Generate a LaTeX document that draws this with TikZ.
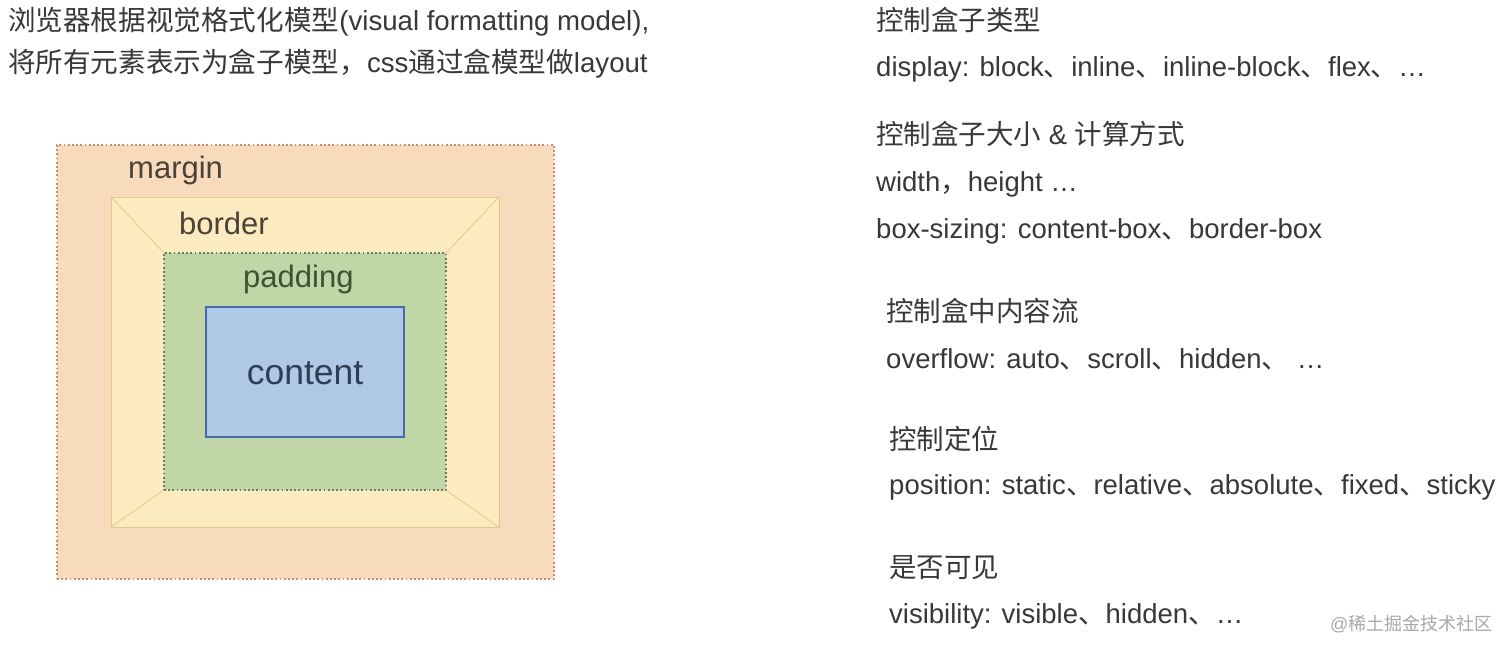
\documentclass[tikz,border=0pt]{standalone}
\usepackage{fontspec}
\setmainfont{Liberation Sans}
\newfontfamily\cjk{Noto Sans CJK SC}
\newcommand\zh[1]{{\cjk #1}}
\definecolor{marginfill}{HTML}{F8DABC}
\definecolor{marginline}{HTML}{C98E72}
\definecolor{borderfill}{HTML}{FCEBC0}
\definecolor{borderline}{HTML}{E2CA86}
\definecolor{padfill}{HTML}{C0D6A6}
\definecolor{padline}{HTML}{62805A}
\definecolor{contfill}{HTML}{AEC8E6}
\definecolor{contline}{HTML}{4A68AE}
\definecolor{txt}{HTML}{383838}
\definecolor{labeltxt}{HTML}{4A4238}
\definecolor{padtxt}{HTML}{3E5236}
\definecolor{conttxt}{HTML}{2E3E55}
\definecolor{mark}{HTML}{A8A8A8}
\begin{document}
\begin{tikzpicture}[x=1pt,y=-1pt,
  boxnode/.style={draw, inner sep=0pt, outer sep=0pt},
  dotline/.style={line width=1.8pt, dash pattern=on 1.8pt off 2.4pt},
  heading/.style={anchor=west, inner sep=0pt, text=txt, font=\fontsize{27.5}{32}\selectfont},
  item/.style={anchor=west, inner sep=0pt, text=txt, font=\fontsize{27.5}{32}\selectfont},
  boxlabel/.style={anchor=west, inner sep=0pt, font=\fontsize{31}{35}\selectfont}]
\useasboundingbox[fill=white] (0,0) rectangle (1512,653);
% intro text
\node[heading, font=\fontsize{27.6}{32}\selectfont] (intro1) at (8,22) {\zh{浏览器根据视觉格式化模型}(visual formatting model),};
\node[heading, font=\fontsize{27.6}{32}\selectfont] (intro2) at (8,64) {\zh{将所有元素表示为盒子模型，}css\zh{通过盒模型做}layout};
% box model
\node[boxnode, fill=marginfill, draw=marginline, dotline,
  minimum width=497pt, minimum height=434pt] (margin) at (305.5,362) {};
\node[boxnode, fill=borderfill, draw=borderline, line width=0.8pt,
  minimum width=388pt, minimum height=330pt] (border) at (305,362) {};
\node[boxnode, fill=padfill, draw=padline, dotline,
  minimum width=282pt, minimum height=237pt] (padding) at (305,371.5) {};
\node[boxnode, fill=contfill, draw=contline, line width=1.3pt,
  minimum width=198pt, minimum height=130pt] (content) at (305,372) {};
\draw[borderline, line width=0.8pt] (border.north west) -- (padding.north west);
\draw[borderline, line width=0.8pt] (border.north east) -- (padding.north east);
\draw[borderline, line width=0.8pt] (border.south west) -- (padding.south west);
\draw[borderline, line width=0.8pt] (border.south east) -- (padding.south east);
\node[boxlabel, text=labeltxt] (lmargin) at (128,170) {margin};
\node[boxlabel, text=labeltxt] (lborder) at (179,223) {border};
\node[boxlabel, text=padtxt] (lpadding) at (243,279) {padding};
\node[anchor=center, inner sep=0pt, text=conttxt, font=\fontsize{35.5}{38}\selectfont] (lcontent) at (305,373) {content};
% right column
\node[heading] (h1) at (876,20) {\zh{控制盒子类型}};
\node[item] (i1) at (876,69) {display: block\zh{、}inline\zh{、}inline-block\zh{、}flex\zh{、}…};
\node[heading] (h2) at (876,134) {\zh{控制盒子大小} \& \zh{计算方式}};
\node[item] (i2) at (876,184) {width\zh{，}height …};
\node[item] (i3) at (876,231) {box-sizing: content-box\zh{、}border-box};
\node[heading] (h3) at (886,311) {\zh{控制盒中内容流}};
\node[item] (i4) at (886,359) {overflow: auto\zh{、}scroll\zh{、}hidden\zh{、} …};
\node[heading] (h4) at (889,439) {\zh{控制定位}};
\node[item] (i5) at (889,487) {position: static\zh{、}relative\zh{、}absolute\zh{、}fixed\zh{、}sticky};
\node[heading] (h5) at (889,568) {\zh{是否可见}};
\node[item] (i6) at (889,616) {visibility: visible\zh{、}hidden\zh{、}…};
% watermark
\node[anchor=west, inner sep=0pt, text=mark, font=\fontsize{18}{21}\selectfont] (wm) at (1330,624) {@\zh{稀土掘金技术社区}};
\end{tikzpicture}
\end{document}
